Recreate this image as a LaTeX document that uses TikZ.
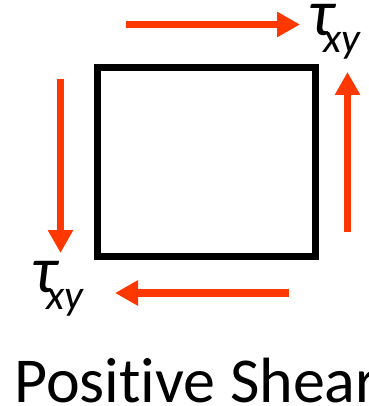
\documentclass[tikz,border=0pt]{standalone}
\usepackage{fontspec}
\setmainfont[Ligatures=NoCommon]{Carlito}
\usetikzlibrary{arrows.meta}
\definecolor{shearred}{RGB}{255,56,0}
\tikzset{
  force/.style={draw=shearred, line width=7.5pt, -{Triangle[length=23pt,width=24pt]}},
  taulabel/.style={anchor=base west, inner sep=0pt, font=\fontsize{66}{66}\selectfont\itshape},
  element/.style={draw=black, line width=7pt, minimum width=217.5pt, minimum height=188pt, inner sep=0pt, outer sep=0pt}
}
\newcommand{\tauxy}{\makebox[0pt][l]{τ}\kern15pt\raisebox{-17pt}{\fontsize{42}{42}\selectfont xy}}
\begin{document}
\begin{tikzpicture}[x=1pt,y=-1pt]
\useasboundingbox (0,0) rectangle (368,406);
\clip (0,0) rectangle (368,406);
\node[element] (sq) at (206.25,162) {};
\coordinate (topS) at (126,24.5);
\coordinate (topE) at (300,24.5);
\coordinate (rightS) at (347.5,232);
\coordinate (rightE) at (347.5,72);
\coordinate (leftS) at (60.5,79);
\coordinate (leftE) at (60.5,253);
\coordinate (botS) at (289,293);
\coordinate (botE) at (115,293);
\draw[force] (topS) -- (topE);
\draw[force] (rightS) -- (rightE);
\draw[force] (leftS) -- (leftE);
\draw[force] (botS) -- (botE);
\node[taulabel] (tauTop) at (308,36) {\tauxy};
\node[taulabel] (tauBot) at (31,292) {\tauxy};
\node[anchor=base west, inner sep=0pt, font=\fontsize{64}{64}\selectfont] (title) at (14,402) {Positive Shear};
\end{tikzpicture}
\end{document}
